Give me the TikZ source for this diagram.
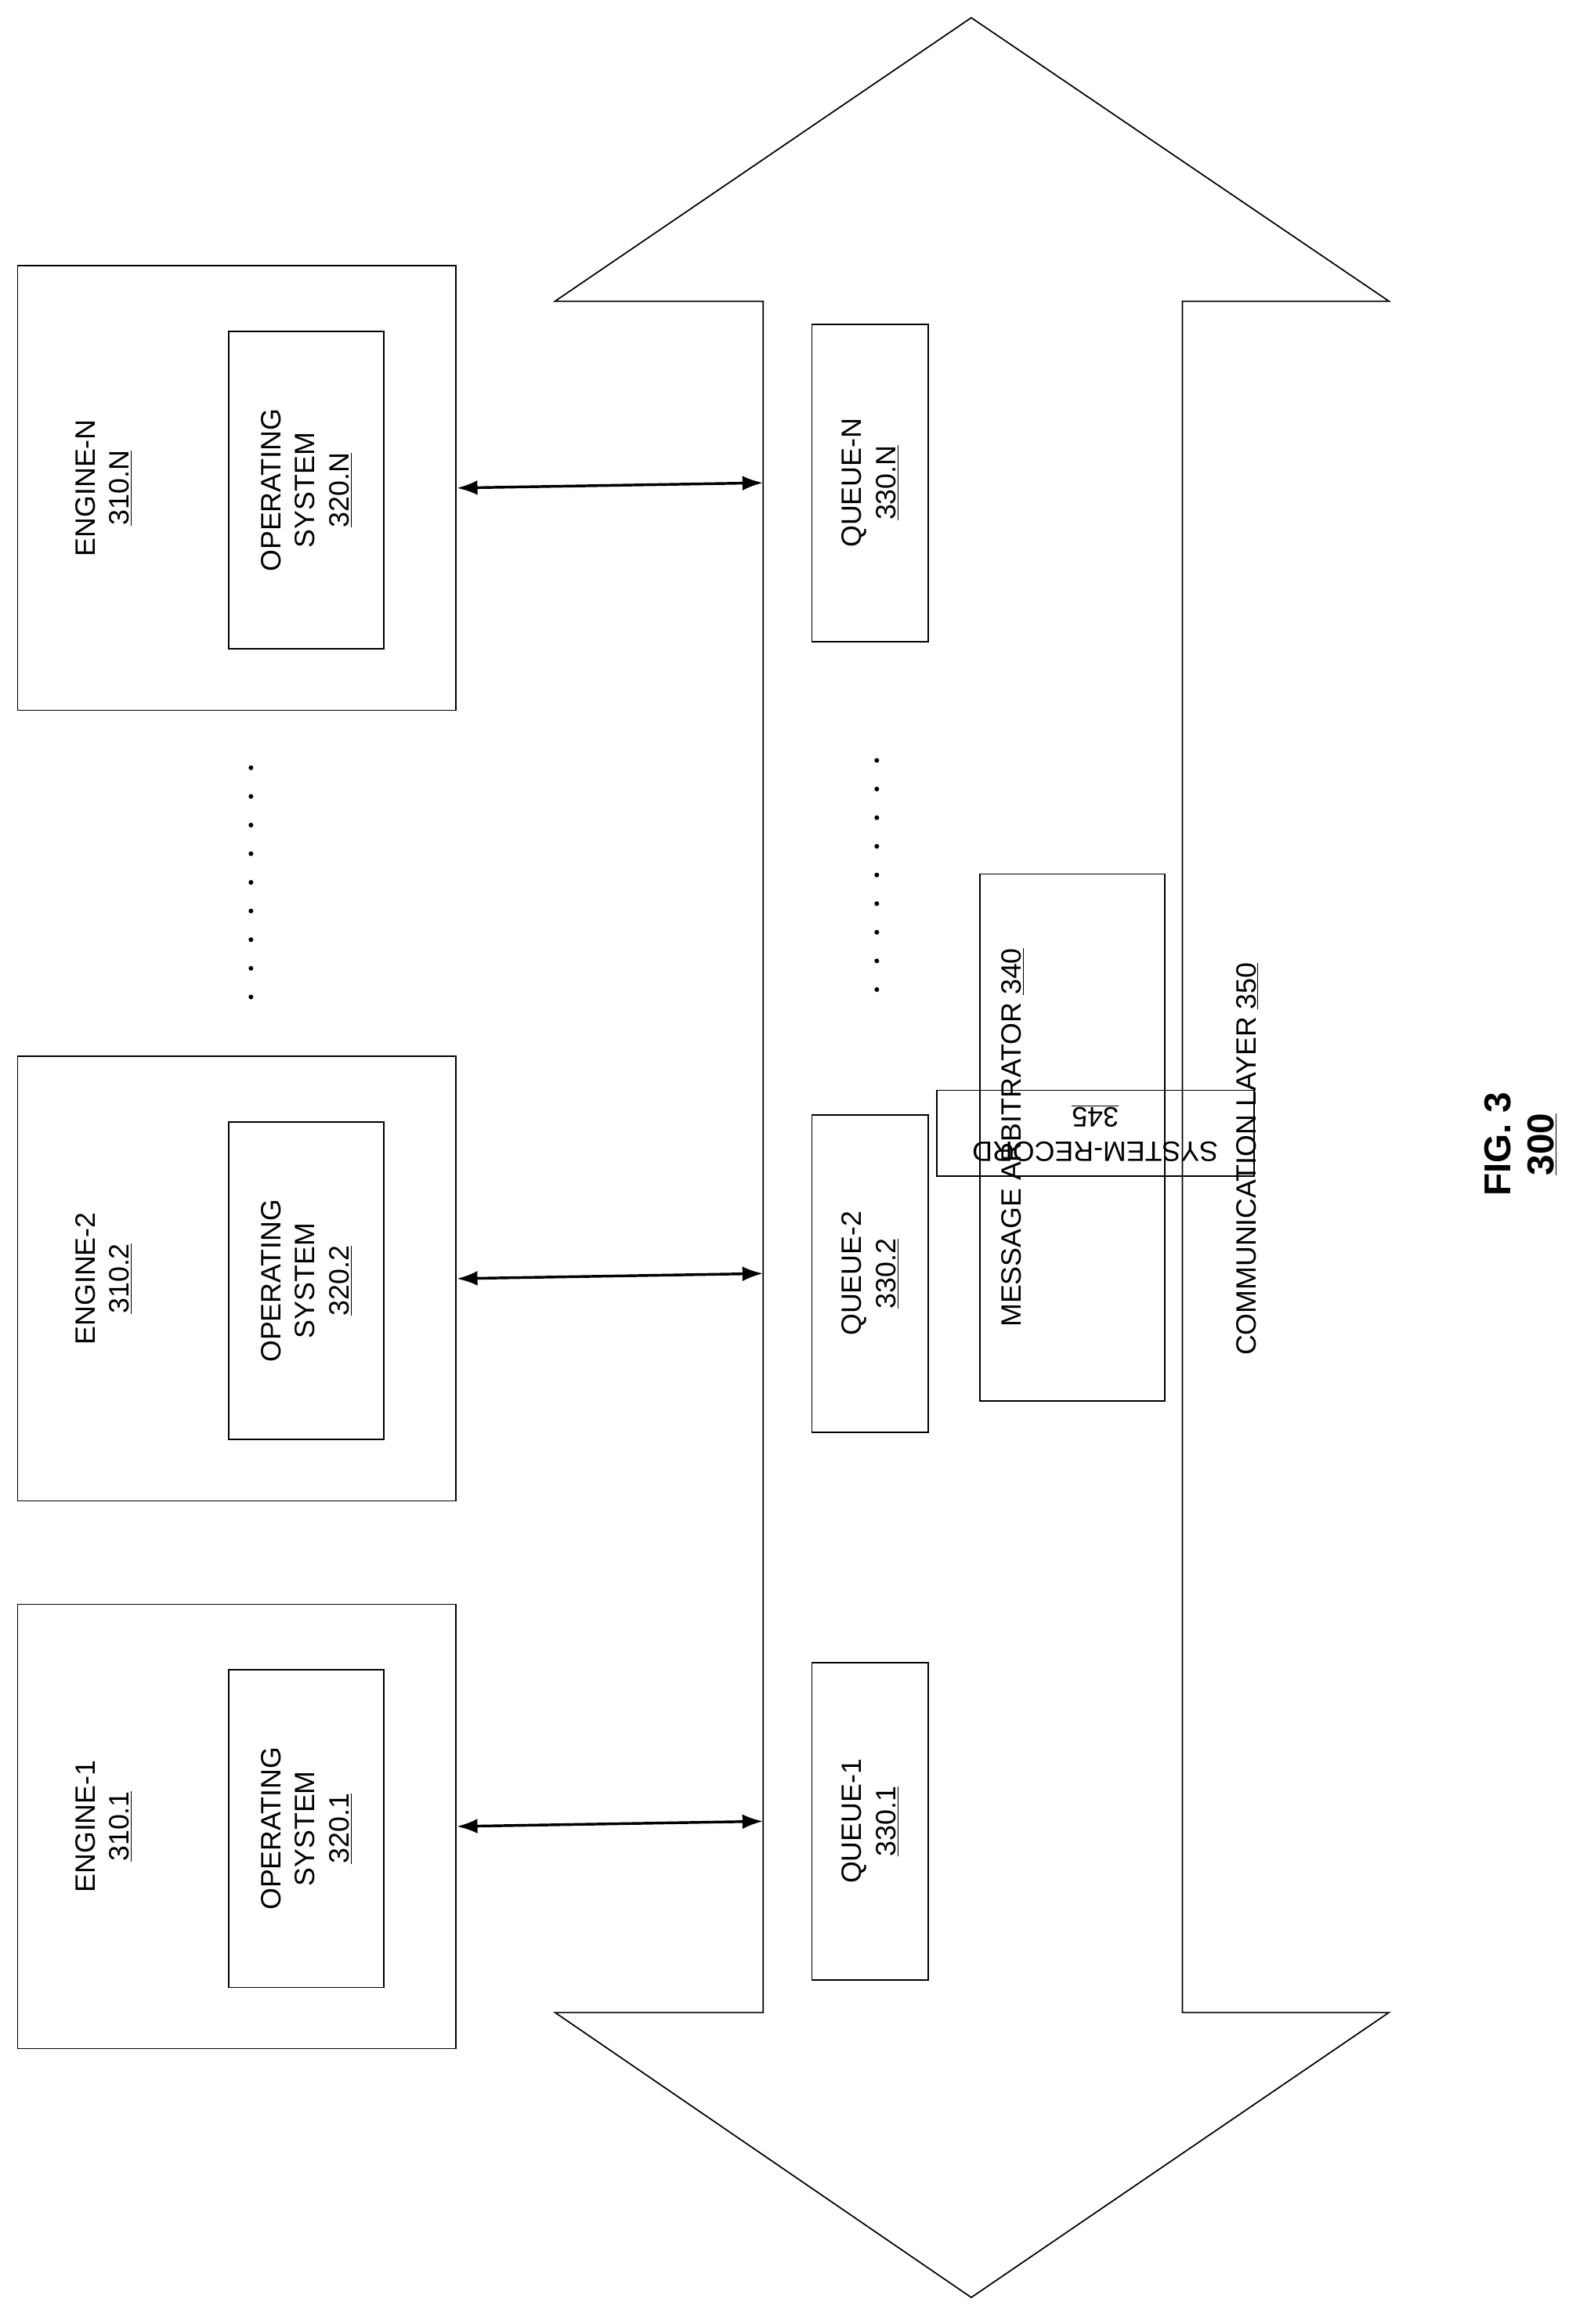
\documentclass[tikz,border=0pt]{standalone}
\usepackage{fontspec}
\setmainfont{Liberation Sans}
\usetikzlibrary{positioning, arrows.meta}
\begin{document}
\begin{tikzpicture}
    [
        x=0.05cm, y=-0.05cm, line width=1.3pt,
        box/.style={draw=black, minimum width=#1},
        txt/.style={rotate=90, align=center, font=\fontsize{27}{33}\selectfont},
        link/.style={{Latex[length=7mm, width=5mm]}-{Latex[length=7mm, width=5mm]}, line width=2.6pt},
    ]
        \useasboundingbox (0,0) rectangle (1075,1574);
        % communication layer arrow
        \draw (658,12) -- (941,204) -- (801,204) -- (801,1363) -- (941,1363) -- (658,1556)
            -- (376,1363) -- (517,1363) -- (517,204) -- (376,204) -- cycle;
        \node[txt] (cl) at (845,785) {COMMUNICATION LAYER \underline{350}};
        % engines
        \foreach \n/\y/\s in {3/330.5/N, 2/866/2, 1/1237/1} {
            \node[box=15.05cm, minimum height=14.85cm, rotate=90] (e\n) at (160.5,\y) {};
            \node[box=10.75cm, minimum height=5.25cm, rotate=90] (os\n) at (207.5,\y+1.5) {};
            \node[txt] at (70,\y) {ENGINE-\s\\\underline{310.\s}};
            \node[txt] at (207.5,\y+1.5) {OPERATING\\SYSTEM\\\underline{320.\s}};
            \node[box=10.75cm, minimum height=3.95cm, rotate=90] (q\n) at (589.5,\y-3.5) {};
            \node[txt] at (589.5,\y-3.5) {QUEUE-\s\\\underline{330.\s}};
            \coordinate (c\n) at (517,\y-3.5);
            \draw[link] (e\n.south) -- (c\n);
        }
        % dots
        \foreach \i in {0,...,8} {
            \fill (170,520+\i*19.4) circle (1.6);
            \fill (594,515+\i*19.4) circle (1.6);
        }
        % message arbitrator
        \node[box=17.85cm, minimum height=6.25cm, rotate=90] (ma) at (726.5,770.5) {};
        \node[txt] at (686,770.5) {MESSAGE ARBITRATOR \underline{340}};
        \node[box=10.75cm, minimum height=2.9cm, rotate=90, txt] (sr) at (742,767.5) {SYSTEM-RECORD\\\underline{345}};
        % figure label
        \node[txt, font=\fontsize{36}{42}\selectfont\bfseries] (fig) at (1030,775) {FIG. 3\\\underline{300}};
\end{tikzpicture}
\end{document}
